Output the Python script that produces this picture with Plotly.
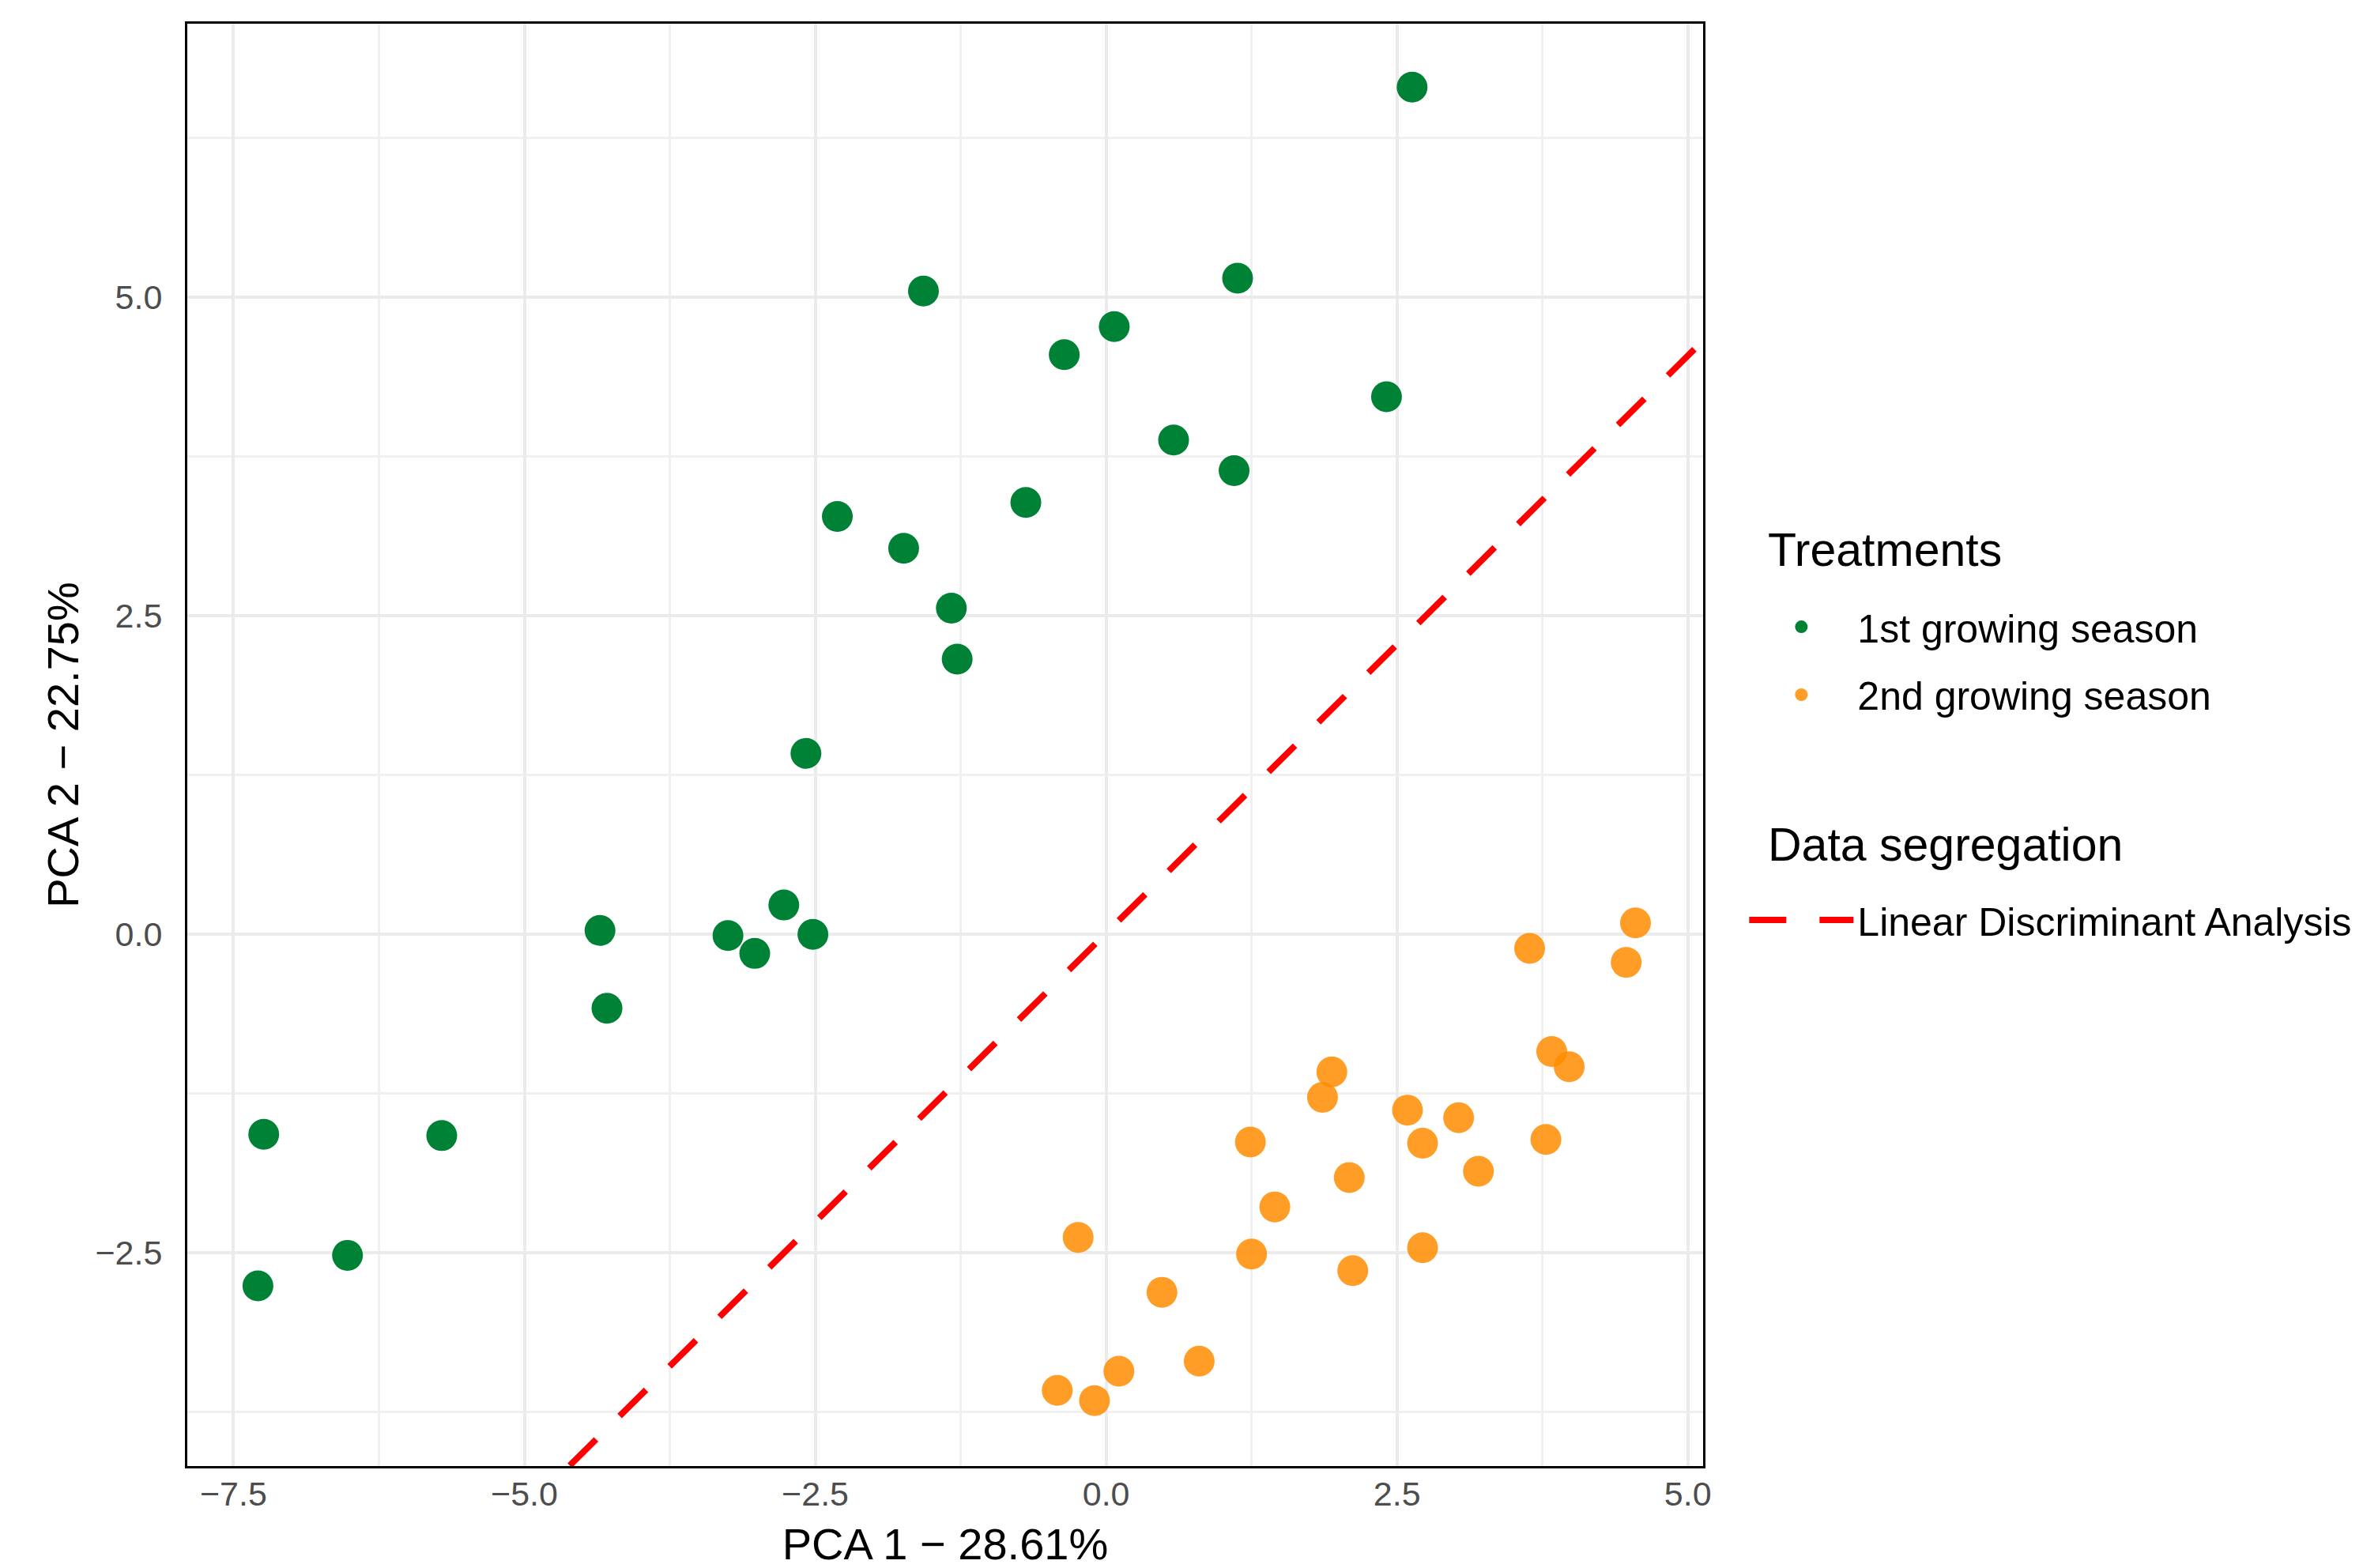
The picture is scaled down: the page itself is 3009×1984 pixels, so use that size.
import plotly.graph_objects as go

# PCA scores
season1_x = [2.63, -1.57, 1.13, 0.07, -0.36, 2.41, 0.58, 1.10, -0.69, -2.31, -1.74, -1.33,
             -1.28, -2.58, -2.77, -4.35, -3.25, -3.02, -2.52, -4.29, -7.24, -5.71, -6.52, -7.29]
season1_y = [6.65, 5.05, 5.15, 4.77, 4.55, 4.22, 3.88, 3.64, 3.39, 3.28, 3.03, 2.56,
             2.16, 1.42, 0.23, 0.03, -0.01, -0.15, 0.00, -0.58, -1.57, -1.58, -2.52, -2.76]

season2_x = [4.55, 3.64, 4.47, 3.83, 3.98, 1.94, 1.86, 2.59, 3.03, 1.24, 2.72, 3.78,
             3.20, 2.09, 1.45, -0.24, 1.25, 2.72, 2.12, 0.48, 0.80, 0.11, -0.42, -0.10]
season2_y = [0.09, -0.11, -0.22, -0.92, -1.04, -1.08, -1.28, -1.38, -1.44, -1.63, -1.64, -1.61,
             -1.86, -1.91, -2.14, -2.38, -2.51, -2.46, -2.64, -2.81, -3.35, -3.43, -3.58, -3.66]

# LDA separation line (where it meets the panel frame)
lda_x = [-4.61, 5.13]
lda_y = [-4.17, 4.66]

x_ticks = [-7.5, -5.0, -2.5, 0.0, 2.5, 5.0]
y_ticks = [-2.5, 0.0, 2.5, 5.0]

FONT = "Liberation Sans"

fig = go.Figure()

# each legend entry gets its own legend box so the spacing can follow the original
fig.add_trace(go.Scatter(
    x=season1_x, y=season1_y, mode='markers', name='1st growing season',
    legend='legend',
    marker=dict(size=39, color='#008236', line=dict(width=0))
))
fig.add_trace(go.Scatter(
    x=season2_x, y=season2_y, mode='markers', name='2nd growing season',
    legend='legend2',
    marker=dict(size=39, color='#FF8C00', opacity=0.85, line=dict(width=0))
))
fig.add_trace(go.Scatter(
    x=lda_x, y=lda_y, mode='lines', name='Linear Discriminant Analysis',
    legend='legend3',
    line=dict(color='#FF0000', width=8, dash='47px,42px')
))

axis_common = dict(
    showgrid=True, gridcolor='#EBEBEB', gridwidth=4,
    zeroline=False, showline=True, mirror=True,
    linecolor='black', linewidth=3, ticks='',
    tickfont=dict(family=FONT, size=43, color='#4D4D4D'),
    tickformat='.1f',
)

legend_common = dict(
    x=1.0278, xanchor='left', yanchor='middle',
    font=dict(family=FONT, size=50, color='black'),
    itemwidth=132, bgcolor='rgba(0,0,0,0)',
)

fig.update_layout(
    width=3009, height=1984,
    margin=dict(l=229, r=862, t=22, b=137),
    paper_bgcolor='white', plot_bgcolor='white',
    font=dict(family=FONT, color='black'),
    xaxis=dict(
        axis_common, range=[-7.897, 5.131], tickvals=x_ticks,
        ticklabelstandoff=-5,
        minor=dict(showgrid=True, dtick=1.25, tick0=0, gridcolor='#F0F0F0', gridwidth=2.5),
        title=dict(text='PCA 1 − 28.61%', font=dict(family=FONT, size=56, color='black'), standoff=22),
    ),
    yaxis=dict(
        axis_common, range=[-4.174, 7.148], tickvals=y_ticks,
        ticklabelstandoff=20,
        minor=dict(showgrid=True, dtick=1.25, tick0=0, gridcolor='#F0F0F0', gridwidth=2.5),
        title=dict(text='PCA 2 − 22.75%', font=dict(family=FONT, size=56, color='black'), standoff=3),
    ),
    legend=dict(legend_common, y=0.5819),
    legend2=dict(legend_common, y=0.5348),
    legend3=dict(legend_common, y=0.3786),
    showlegend=True,
)

# legend headings
for title, ypos in [('Treatments', 0.6349), ('Data segregation', 0.4305)]:
    fig.add_annotation(
        text=title, xref='paper', yref='paper', x=1.0417, y=ypos,
        xanchor='left', yanchor='middle', showarrow=False,
        font=dict(family=FONT, size=59, color='black'),
    )

fig.write_html("out.html")
